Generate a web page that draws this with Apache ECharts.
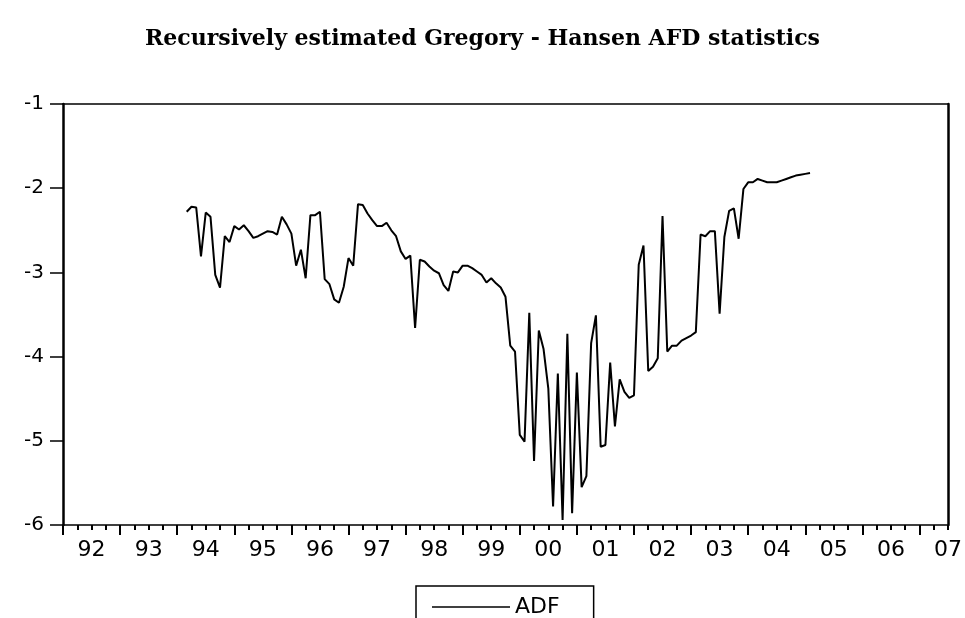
<!DOCTYPE html>
<html>
<head>
<meta charset="utf-8">
<script src="https://cdn.jsdelivr.net/npm/echarts@6/dist/echarts.min.js"></script>
<style>
html, body { margin: 0; padding: 0; background: #fff; }
#main { width: 965px; height: 618px; }
</style>
</head>
<body>
<div id="main"></div>
<script>
// year tick labels, one per calendar year on the axis
var yearLabels = ['92', '93', '94', '95', '96', '97', '98', '99', '00', '01', '02', '03', '04', '05', '06', '07'];

// monthly categories, 1992M01 .. 2007M07
var months = [];
for (var y = 1992; y <= 2007; y++) {
    for (var m = 1; m <= 12; m++) {
        if (y === 2007 && m > 7) break;
        months.push(y + 'M' + (m < 10 ? '0' + m : m));
    }
}

// recursive ADF statistic, monthly from 1994M03 to 2005M02
var firstMonth = '1994M03';
var adf = [
    -2.28, -2.22, -2.23, -2.81, -2.29, -2.34, -3.03, -3.18, -2.57, -2.64,
    -2.45, -2.49, -2.44, -2.51, -2.59, -2.57, -2.54, -2.51, -2.52, -2.55,
    -2.34, -2.43, -2.54, -2.92, -2.73, -3.07, -2.32, -2.32, -2.28, -3.08,
    -3.14, -3.32, -3.36, -3.17, -2.83, -2.92, -2.19, -2.20, -2.30, -2.38,
    -2.45, -2.45, -2.41, -2.50, -2.57, -2.75, -2.84, -2.80, -3.66, -2.85,
    -2.87, -2.93, -2.98, -3.01, -3.15, -3.22, -2.99, -3.00, -2.92, -2.92,
    -2.95, -2.99, -3.03, -3.12, -3.07, -3.13, -3.18, -3.29, -3.87, -3.94,
    -4.93, -5.01, -3.48, -5.24, -3.69, -3.91, -4.38, -5.78, -4.20, -5.94,
    -3.73, -5.86, -4.19, -5.55, -5.42, -3.84, -3.51, -5.07, -5.05, -4.07,
    -4.83, -4.27, -4.42, -4.49, -4.46, -2.91, -2.68, -4.17, -4.12, -4.02,
    -2.33, -3.94, -3.87, -3.87, -3.81, -3.78, -3.75, -3.71, -2.55, -2.57,
    -2.51, -2.51, -3.49, -2.58, -2.27, -2.24, -2.60, -2.01, -1.93, -1.93,
    -1.89, -1.91, -1.93, -1.93, -1.93, -1.91, -1.89, -1.87, -1.85, -1.84,
    -1.83, -1.82
];

var start = months.indexOf(firstMonth);
var seriesData = months.map(function (mo, i) {
    var k = i - start;
    return (k >= 0 && k < adf.length) ? adf[k] : null;
});

var chart = echarts.init(document.getElementById('main'));

var option = {
    animation: false,
    backgroundColor: '#fff',
    title: {
        text: 'Recursively estimated Gregory - Hansen AFD statistics',
        left: 'center',
        top: 23,
        textStyle: {
            fontFamily: 'DejaVu Serif',
            fontWeight: 'bold',
            fontSize: 22,
            color: '#000'
        }
    },
    legend: {
        data: ['ADF'],
        left: 416,
        top: 586,
        padding: [10, 34, 10, 16],
        borderColor: '#000',
        borderWidth: 1.5,
        icon: 'rect',
        itemWidth: 78,
        itemHeight: 1.6,
        itemGap: 0,
        itemStyle: { color: '#000', borderWidth: 0 },
        textStyle: {
            fontFamily: 'DejaVu Sans',
            fontSize: 22,
            color: '#000'
        }
    },
    grid: {
        left: 63,
        right: 15,
        top: 104,
        bottom: 93
    },
    xAxis: [
        {
            // yearly ticks and labels
            type: 'category',
            data: months,
            boundaryGap: false,
            position: 'bottom',
            axisLine: { lineStyle: { color: '#000', width: 1.5 } },
            axisTick: {
                interval: function (i) { return i % 12 === 0; },
                length: 10,
                lineStyle: { color: '#000', width: 2 }
            },
            axisLabel: {
                interval: function (i) { return i % 12 === 6; },
                formatter: function (v, i) { return yearLabels[Math.floor(i / 12)]; },
                margin: 14,
                fontFamily: 'DejaVu Sans',
                fontSize: 22,
                color: '#000'
            },
            splitLine: { show: false }
        },
        {
            // quarterly ticks
            type: 'category',
            data: months,
            boundaryGap: false,
            position: 'bottom',
            axisLine: { show: false },
            axisTick: {
                interval: function (i) { return i % 3 === 0; },
                length: 5,
                lineStyle: { color: '#000', width: 2 }
            },
            axisLabel: { show: false },
            splitLine: { show: false }
        },
        {
            // top frame
            type: 'category',
            data: months,
            boundaryGap: false,
            position: 'top',
            axisLine: { lineStyle: { color: '#000', width: 1.5 } },
            axisTick: { show: false },
            axisLabel: { show: false },
            splitLine: { show: false }
        }
    ],
    yAxis: [
        {
            type: 'value',
            min: -6,
            max: -1,
            interval: 1,
            position: 'left',
            axisLine: { show: true, lineStyle: { color: '#000', width: 2.5 } },
            axisTick: { show: true, length: 13, lineStyle: { color: '#000', width: 1.5 } },
            axisLabel: {
                margin: 19,
                fontFamily: 'DejaVu Sans',
                fontSize: 20,
                color: '#000'
            },
            splitLine: { show: false }
        },
        {
            // right frame
            type: 'value',
            min: -6,
            max: -1,
            interval: 1,
            position: 'right',
            axisLine: { show: true, lineStyle: { color: '#000', width: 2.5 } },
            axisTick: { show: false },
            axisLabel: { show: false },
            splitLine: { show: false }
        }
    ],
    series: [
        {
            name: 'ADF',
            type: 'line',
            xAxisIndex: 0,
            yAxisIndex: 0,
            data: seriesData,
            symbol: 'none',
            connectNulls: false,
            lineStyle: { color: '#000', width: 2 },
            itemStyle: { color: '#000' }
        }
    ]
};

chart.setOption(option);
</script>
</body>
</html>
